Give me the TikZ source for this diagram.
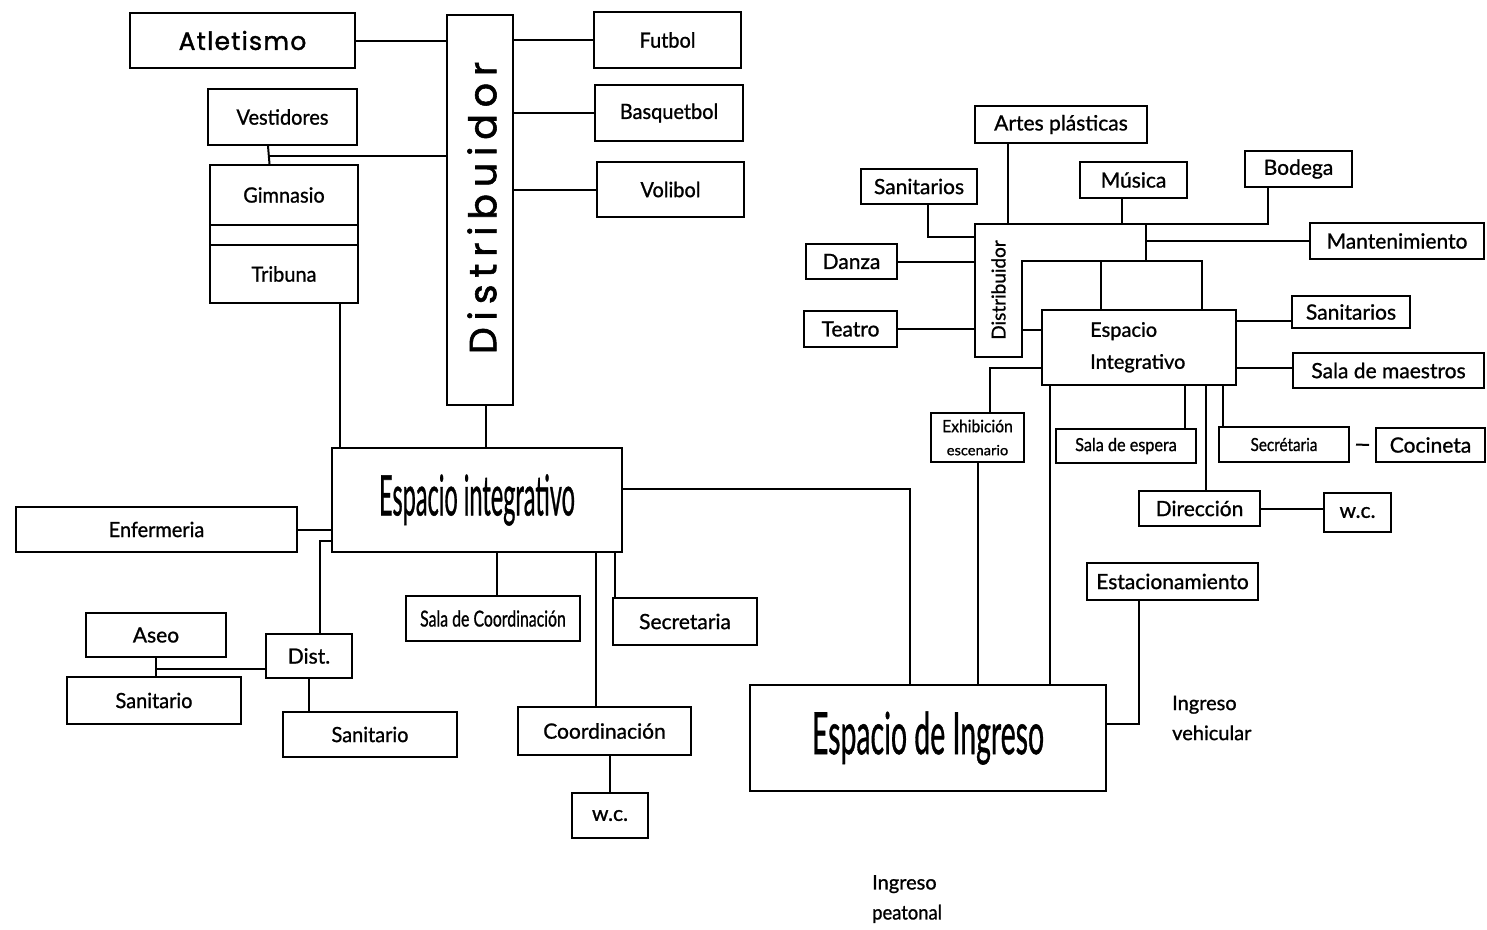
\documentclass[tikz,border=0pt]{standalone}
\usepackage{fontspec}
\usepackage{graphicx}
\setmainfont{Lato}[FakeBold=1]
\newfontfamily\geo{Poppins}[FakeBold=1.5]
\usetikzlibrary{calc}
\tikzset{
  bx/.style={draw, line width=2pt, inner sep=0pt, font=\fontsize{21}{24}\selectfont},
  ln/.style={line width=2pt},
  txt/.style={inner sep=0pt, align=left, font=\fontsize{20}{30}\selectfont},
}
\newcommand{\hs}[2]{\scalebox{#1}[1]{#2}}
\begin{document}
\begin{tikzpicture}[x=1pt,y=-1pt]
\fill[white] (0,0) rectangle (1487,929);
\useasboundingbox (0,0) rectangle (1487,929);

% ---------- left group ----------
\node[bx, minimum width=225pt, minimum height=55pt] (atl) at (242.5,40.5) {\geo\fontsize{25}{26}\selectfont\addfontfeature{LetterSpace=5}Atletismo};
\node[bx, minimum width=66pt, minimum height=390pt] (distL) at (480,210) {};
\node[rotate=90, inner sep=0pt, font=\geo\fontsize{38}{40}\selectfont] (distLt) at (482,208) {\addfontfeature{LetterSpace=18}Distribuidor};
\node[bx, minimum width=147pt, minimum height=56pt] (fut) at (667.5,40) {\hs{0.95}{Futbol}};
\node[bx, minimum width=148pt, minimum height=56pt] (bas) at (669,113) {\hs{0.95}{Basquetbol}};
\node[bx, minimum width=147pt, minimum height=55pt] (vol) at (670.5,189.5) {\hs{0.95}{Volibol}};
\node[bx, minimum width=149pt, minimum height=56pt] (vest) at (282.5,117) {\hs{0.95}{Vestidores}};
\node[bx, minimum width=148pt, minimum height=60pt] (gim) at (284,195) {\hs{0.95}{Gimnasio}};
\node[bx, minimum width=148pt, minimum height=20pt] (gmid) at (284,235) {};
\node[bx, minimum width=148pt, minimum height=58pt] (trib) at (284,274) {\hs{0.95}{Tribuna}};

\node[bx, minimum width=290pt, minimum height=104pt] (espL) at (477,500) {\hs{0.42}{\fontsize{56}{56}\selectfont Espacio integrativo}};
\node[bx, minimum width=281pt, minimum height=45pt] (enf) at (156.5,529.5) {\hs{0.95}{Enfermeria}};
\node[bx, minimum width=86pt, minimum height=44pt] (distS) at (309,656) {Dist.};
\node[bx, minimum width=140pt, minimum height=44pt] (aseo) at (156,635) {Aseo};
\node[bx, minimum width=174pt, minimum height=47pt] (san1) at (154,700.5) {\hs{0.95}{Sanitario}};
\node[bx, minimum width=174pt, minimum height=45pt] (san2) at (370,734.5) {\hs{0.95}{Sanitario}};
\node[bx, minimum width=174pt, minimum height=45pt] (salaC) at (493,618.5) {\hs{0.72}{\fontsize{22}{24}\selectfont Sala de Coordinación}};
\node[bx, minimum width=144pt, minimum height=47pt] (sec) at (685,621.5) {Secretaria};
\node[bx, minimum width=173pt, minimum height=48pt] (coord) at (604.5,731) {Coordinación};
\node[bx, minimum width=76pt, minimum height=45pt] (wc1) at (610,815.5) {w.c.};
\node[bx, minimum width=356pt, minimum height=106pt] (espIn) at (928,738) {\hs{0.49}{\fontsize{58}{58}\selectfont Espacio de Ingreso}};

% left connectors
\draw[ln] (atl.east) -- (atl.east -| distL.west);
\draw[ln] (fut.west -| distL.east) -- (fut.west);
\draw[ln] (bas.west -| distL.east) -- (bas.west);
\draw[ln] (vol.west -| distL.east) -- (vol.west);
\coordinate (v1) at ([xshift=-14.5pt]vest.south);
\coordinate (v2) at ([xshift=-14.5pt]gim.north);
\coordinate (v3) at ([xshift=-14.5pt,yshift=-10pt]vest.south);
\draw[ln] (v1) -- (v2);
\draw[ln] (v3) -- (v3 -| distL.west);
\coordinate (t1) at ([xshift=56pt]trib.south);
\draw[ln] (t1) -- (t1 |- espL.north);
\coordinate (d1) at ([xshift=6pt]distL.south);
\draw[ln] (d1) -- (d1 |- espL.north);
\draw[ln] (enf.east) -- (enf.east -| espL.west);
\coordinate (c1) at ([yshift=-41pt]espL.west);
\coordinate (c2) at ([xshift=11pt]distS.north);
\draw[ln] (c1) -| (c2);
\draw[ln] (aseo.south) -- (aseo.south |- san1.north);
\coordinate (c3) at ([yshift=-11pt]aseo.south);
\draw[ln] (c3) -- (c3 -| distS.west);
\draw[ln] (distS.south) -- (distS.south |- san2.north);
\coordinate (c4) at ([xshift=4pt]salaC.north);
\draw[ln] (c4 |- espL.south) -- (c4);
\coordinate (c5) at ([xshift=3pt]sec.north west);
\draw[ln] (c5 |- espL.south) -- (c5);
\coordinate (c8) at ([xshift=-8.5pt]coord.north);
\draw[ln] (c8 |- espL.south) -- (c8);
\draw[ln] (wc1.north) -- (wc1.north |- coord.south);
\coordinate (c6) at ([yshift=11pt]espL.east);
\coordinate (c7) at ([xshift=-18pt]espIn.north);
\draw[ln] (c6) -| (c7);

% ---------- right group ----------
\draw[ln] (975,224) coordinate (Ltl) -- (1146,224) coordinate (Ltr) -- (1146,261) coordinate (Lbr)
  -- (1022,261) coordinate (Lin) -- (1022,357) coordinate (Lbot) -- (975,357) coordinate (Lbl) -- cycle;
\node[rotate=90, inner sep=0pt, font=\fontsize{19}{20}\selectfont] (distR) at (998.5,290) {Distribuidor};

\node[bx, minimum width=172pt, minimum height=37pt] (artes) at (1061,124.5) {Artes plásticas};
\node[bx, minimum width=116pt, minimum height=35pt] (sanT) at (919,186.5) {Sanitarios};
\node[bx, minimum width=107pt, minimum height=36pt] (mus) at (1133.5,180) {Música};
\node[bx, minimum width=107pt, minimum height=36pt] (bod) at (1298.5,169) {Bodega};
\node[bx, minimum width=174pt, minimum height=36pt] (mant) at (1397,241) {Mantenimiento};
\node[bx, minimum width=91pt, minimum height=35pt] (danza) at (851.5,261.5) {Danza};
\node[bx, minimum width=93pt, minimum height=36pt] (teatro) at (850.5,329) {Teatro};
\node[bx, minimum width=194pt, minimum height=75pt] (espR) at (1139,347.5) {};
\node[txt, anchor=north west, font=\fontsize{20}{32}\selectfont] (espRt) at (1090,322) {Espacio\\Integrativo};
\node[bx, minimum width=118pt, minimum height=32pt] (sanR) at (1351,312) {Sanitarios};
\node[bx, minimum width=191pt, minimum height=35pt] (maest) at (1388.5,370.5) {Sala de maestros};
\node[bx, minimum width=93pt, minimum height=49pt, align=center] (exh) at (977.5,437.5) {\hs{0.92}{\fontsize{17}{17}\selectfont Exhibición}\\[-1pt]\hs{1.05}{\fontsize{14}{14}\selectfont escenario}};
\node[bx, minimum width=140pt, minimum height=34pt] (salaE) at (1126,446) {\hs{0.9}{\fontsize{18}{18}\selectfont Sala de espera}};
\node[bx, minimum width=130pt, minimum height=35pt] (secR) at (1284,444.5) {\hs{0.85}{\fontsize{18}{18}\selectfont Secrétaria}};
\node[bx, minimum width=109pt, minimum height=34pt] (coc) at (1430.5,445) {Cocineta};
\node[bx, minimum width=121pt, minimum height=35pt] (dir) at (1199.5,508.5) {Dirección};
\node[bx, minimum width=67pt, minimum height=39pt] (wc2) at (1357.5,512.5) {w.c.};
\node[bx, minimum width=171pt, minimum height=37pt] (est) at (1172.5,581.5) {Estacionamiento};
\node[txt, anchor=west] (ingV) at (1172,718) {Ingreso\\vehicular};
\node[txt, anchor=west] (ingP) at (872,899) {Ingreso\\\hs{0.92}{peatonal}};

% right connectors
\coordinate (a1) at ([xshift=-53pt]artes.south);
\draw[ln] (a1) -- (a1 |- Ltl);
\coordinate (s1) at ([xshift=9pt]sanT.south);
\coordinate (s2) at ([yshift=-13pt]Ltl);
\draw[ln] (s1) |- (s2);
\coordinate (m1) at ([xshift=-11.5pt]mus.south);
\draw[ln] (m1) -- (m1 |- Ltl);
\coordinate (b1) at ([xshift=-30.5pt]bod.south);
\draw[ln] (b1) |- (Ltr);
\draw[ln] (mant.west -| Ltr) -- (mant.west);
\draw[ln] (danza.east) -- (danza.east -| Ltl);
\draw[ln] (teatro.east) -- (teatro.east -| Ltl);
\coordinate (e1) at ([yshift=18pt]espR.west);
\draw[ln] (e1 -| Lin) -- (e1);
\coordinate (e2) at ([xshift=-38pt]espR.north);
\draw[ln] (e2 |- Lbr) -- (e2);
\coordinate (e3) at ([xshift=63pt]espR.north);
\draw[ln] (Lbr) -| (e3);
\coordinate (e4) at ([yshift=26.5pt]espR.east);
\draw[ln] (e4) -- (e4 -| sanR.west);
\coordinate (e5) at ([yshift=-20pt]espR.east);
\draw[ln] (e5) -- (e5 -| maest.west);
\coordinate (e6) at ([yshift=-20.5pt]espR.west);
\coordinate (x1) at ([xshift=12.5pt]exh.north);
\draw[ln] (e6) -| (x1);
\draw[ln] (exh.south) -- (exh.south |- espIn.north);
\coordinate (e7) at ([xshift=-89pt]espR.south);
\draw[ln] (e7) -- (e7 |- espIn.north);
\coordinate (e8) at ([xshift=59pt]salaE.north);
\draw[ln] (e8 |- espR.south) -- (e8);
\coordinate (e9) at ([xshift=6.5pt]dir.north);
\draw[ln] (e9 |- espR.south) -- (e9);
\coordinate (e10) at ([xshift=-61pt]secR.north);
\draw[ln] (e10 |- espR.south) -- (e10);
\draw[ln] ([xshift=6pt]secR.east) -- ([xshift=-6pt]coc.west);
\draw[ln] (dir.east) -- (dir.east -| wc2.west);
\coordinate (e11) at ([xshift=-33.5pt]est.south);
\coordinate (e12) at ([yshift=14pt]espIn.east);
\draw[ln] (e11) |- (e12);
\end{tikzpicture}
\end{document}
